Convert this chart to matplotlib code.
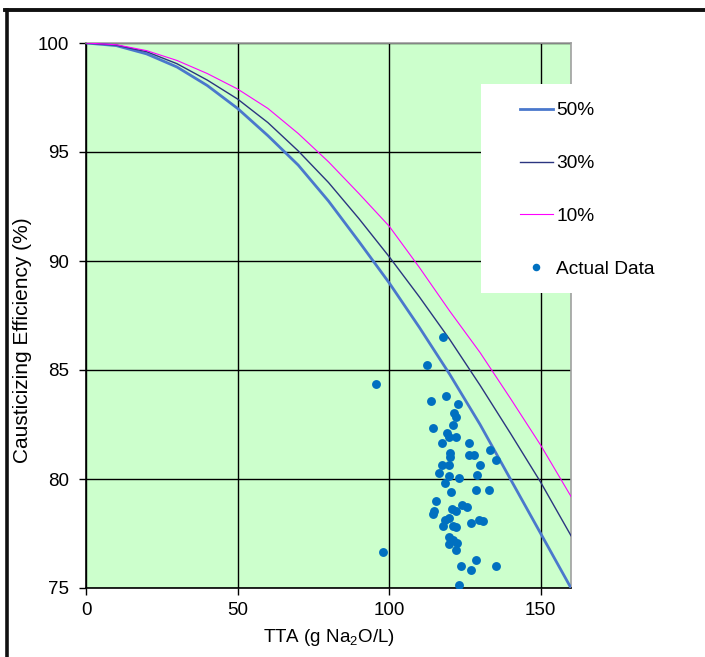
import matplotlib
matplotlib.use("Agg")
import matplotlib.pyplot as plt
from matplotlib.lines import Line2D
from matplotlib.patches import Rectangle


plt.rcParams['font.family'] = ['Liberation Sans', 'DejaVu Sans']
plt.rcParams['mathtext.fontset'] = 'custom'
plt.rcParams['mathtext.rm'] = 'Liberation Sans'
plt.rcParams['mathtext.it'] = 'Liberation Sans'


# model curves, every 10 g/L
tta_grid = [0, 10, 20, 30, 40, 50, 60, 70, 80, 90, 100, 110, 120, 130, 140, 150, 160]
eff_50 = [100, 99.88, 99.5, 98.9, 98.05, 97.0, 95.75, 94.4, 92.75, 90.9, 89.0,
          86.95, 84.8, 82.5, 80.0, 77.5, 75.0]
eff_30 = [100, 99.9, 99.6, 99.05, 98.3, 97.43, 96.35, 95.05, 93.6, 91.95, 90.2,
          88.35, 86.4, 84.3, 82.1, 79.85, 77.4]
eff_10 = [100, 99.92, 99.65, 99.2, 98.6, 97.89, 97.0, 95.85, 94.55, 93.1, 91.6,
          89.7, 87.7, 85.8, 83.7, 81.55, 79.2]

# mill data
tta_actual = [117.9, 112.5, 95.6, 113.8, 118.7, 122.8, 121.5, 121.9, 114.6, 121.1,
              119.0, 119.9, 121.9, 117.5, 126.2, 133.4, 126.5, 128.1, 120.0, 120.0,
              135.1, 130.1, 117.5, 119.6, 116.6, 119.6, 122.9, 129.0, 118.3, 120.4,
              128.5, 133.0, 115.4, 114.9, 114.5, 120.7, 122.0, 124.2, 125.7, 119.6,
              118.4, 117.9, 121.0, 122.1, 126.9, 129.5, 130.9, 119.8, 121.2, 122.3,
              119.9, 121.9, 98.0, 128.5, 123.7, 126.9, 135.4, 122.9]
eff_actual = [86.51, 85.21, 84.35, 83.56, 83.82, 83.45, 83.04, 82.84, 82.36, 82.47,
              82.09, 81.92, 81.92, 81.66, 81.63, 81.35, 81.12, 81.08, 81.17, 81.02,
              80.89, 80.66, 80.66, 80.62, 80.28, 80.13, 80.05, 80.17, 79.82, 79.41,
              79.51, 79.51, 79.01, 78.55, 78.41, 78.63, 78.52, 78.80, 78.70, 78.21,
              78.12, 77.83, 77.86, 77.80, 77.97, 78.11, 78.06, 77.33, 77.22, 77.07,
              77.02, 76.76, 76.65, 76.30, 76.02, 75.81, 76.02, 75.14]

x_ticks = [0, 50, 100, 150]
y_ticks = [75, 80, 85, 90, 95, 100]


W, H = 705, 657
fig = plt.figure(figsize=(W / 100, H / 100), dpi=100)
ax = fig.add_axes([86 / W, 69 / H, 485 / W, 545 / H])
ax.set_facecolor('#CCFFCC')

l50, = ax.plot(tta_grid, eff_50, color='#4A78CC', lw=2.0, label='50%', zorder=3)
l30, = ax.plot(tta_grid, eff_30, color='#2B3580', lw=1.0, label='30%', zorder=3)
l10, = ax.plot(tta_grid, eff_10, color='#FF00FF', lw=0.8, label='10%', zorder=3)
pts, = ax.plot(tta_actual, eff_actual, 'o', color='#0070C0', ms=6.4, mec='none',
               label='Actual Data', zorder=4)

ax.set_xlim(0, 160)
ax.set_ylim(75, 100)
ax.set_xticks(x_ticks)
ax.set_yticks(y_ticks)
ax.grid(True, color='black', lw=1.0, zorder=1)
ax.set_axisbelow(True)
ax.tick_params(direction='out', length=5, width=1, color='black',
               labelsize=13.5, pad=5)
ax.tick_params(axis='y', pad=7)

for s in ['left', 'bottom']:
    ax.spines[s].set_color('black')
    ax.spines[s].set_linewidth(1.2)
for s in ['top', 'right']:
    ax.spines[s].set_color('#A0A0A0')
    ax.spines[s].set_linewidth(1.2)

ax.set_xlabel('TTA (g Na$_2$O/L)', fontsize=13.5, labelpad=6)
fig.text(23 / W, 1 - 340 / H, 'Causticizing Efficiency (%)', rotation=90,
         ha='center', va='center', fontsize=15)

# white legend panel sticking out to the right
fig.add_artist(Rectangle((481 / W, 1 - 293 / H), (W - 481) / W, (293 - 84) / H,
                         transform=fig.transFigure, facecolor='white',
                         edgecolor='none', zorder=2))

leg = fig.legend([l50, l30, l10, pts], ['50%', '30%', '10%', 'Actual Data'],
                 loc='upper left', bbox_to_anchor=(520 / W, 1 - 102 / H),
                 bbox_transform=fig.transFigure, frameon=False, fontsize=13.8,
                 borderpad=0, borderaxespad=0, handlelength=1.7,
                 handletextpad=0.2, labelspacing=1.85, numpoints=1,
                 markerscale=0.85)
leg.set_zorder(5)

# black frame round the picture
fig.add_artist(Line2D([6.5 / W, 6.5 / W], [0, 1 - 9.5 / H], color='#111111',
                      lw=2.6, transform=fig.transFigure, zorder=6))
fig.add_artist(Line2D([5 / W, 1], [1 - 9.5 / H, 1 - 9.5 / H], color='#111111',
                      lw=2.8, transform=fig.transFigure, zorder=6))

fig.savefig('out.png', dpi=100)
